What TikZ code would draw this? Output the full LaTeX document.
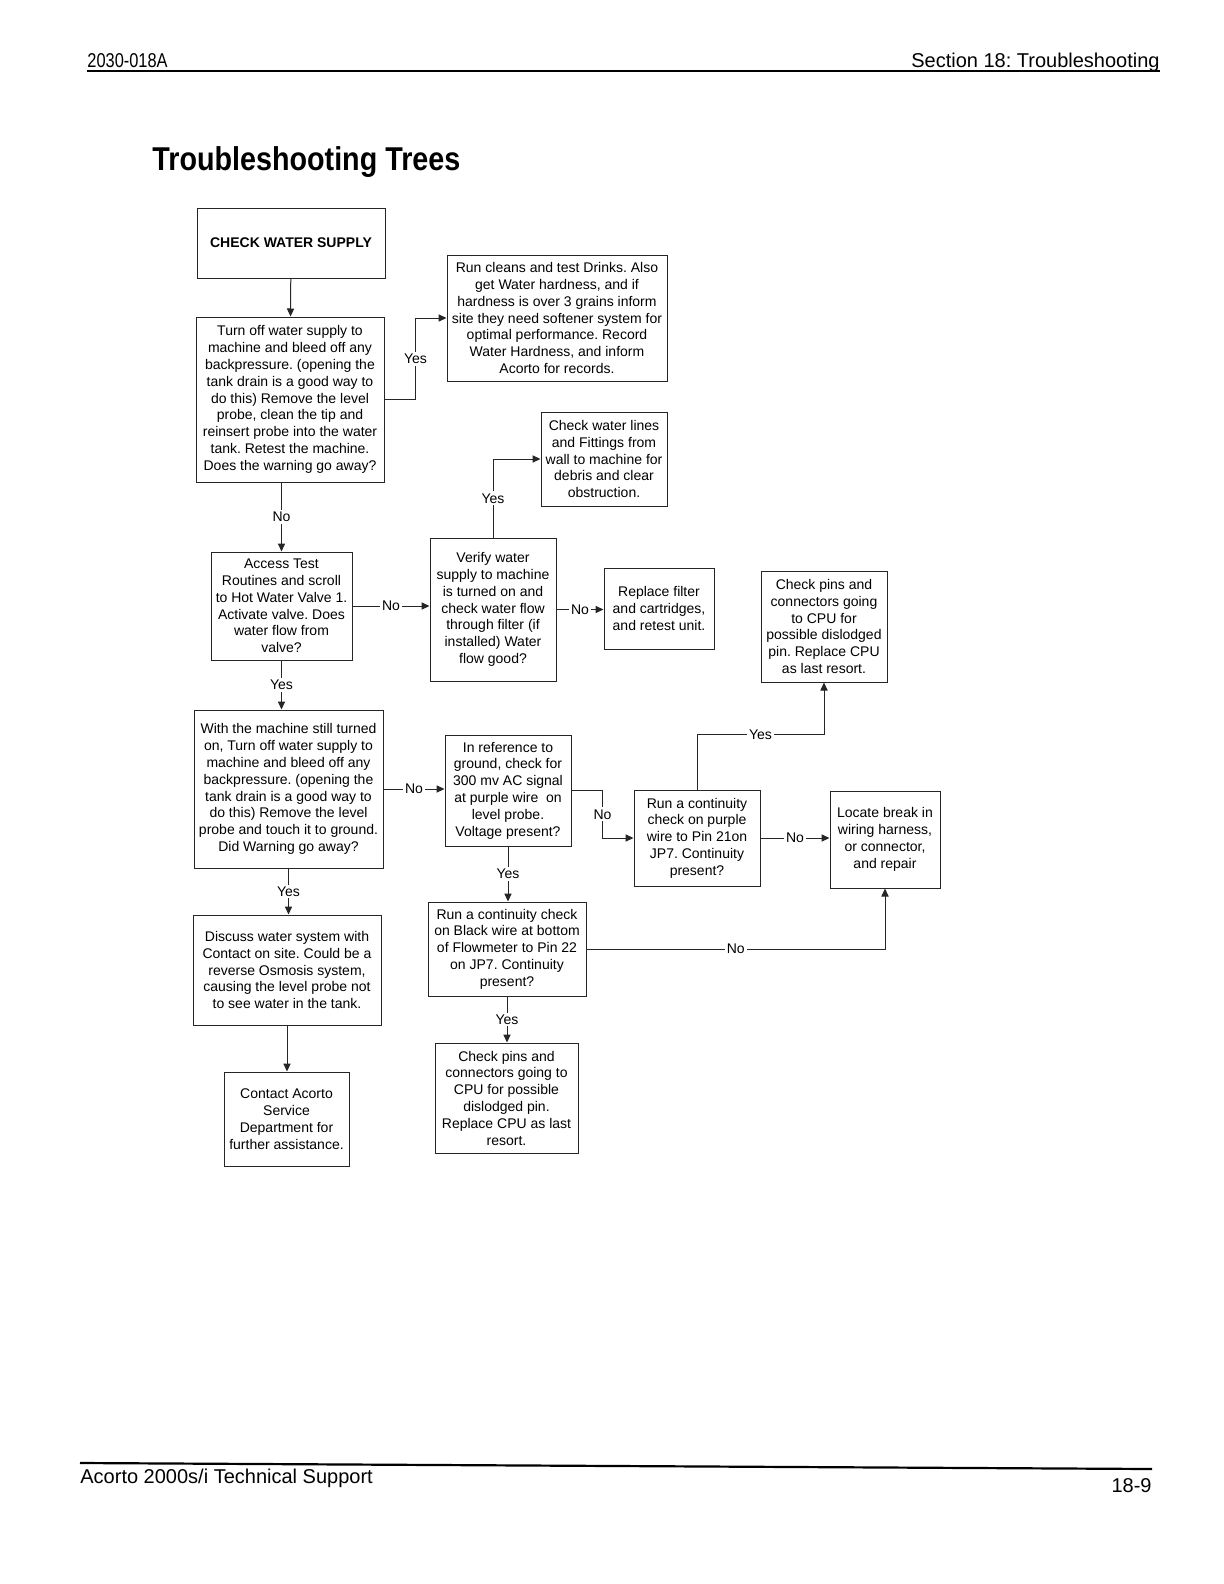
\documentclass[tikz,border=0pt]{standalone}
\usepackage{fontspec}
\setmainfont{Liberation Sans}
\newfontfamily\narrowfont[FakeStretch=0.82]{Liberation Sans}
\newfontfamily\titlefont[FakeStretch=0.87]{Liberation Sans}
\usepackage{tikz}
\usetikzlibrary{arrows.meta}
\pgfdeclarelayer{edgelayer}
\pgfdeclarelayer{nodelayer}
\pgfsetlayers{edgelayer,nodelayer,main}
\tikzstyle{flow_box}=[draw=black!85,line width=0.5pt,align=center,inner sep=0pt,font=\fontsize{7}{8.4}\selectfont]
\tikzstyle{flow_arrow}=[-{Triangle[length=4pt,width=3.6pt]},draw=black!85,line width=0.5pt]
\tikzstyle{flow_label}=[fill=white,inner sep=1pt,font=\fontsize{7}{8.4}\selectfont]
\frenchspacing

\begin{document}
\begin{tikzpicture}[x=0.5pt,y=-0.5pt]
	\useasboundingbox (0,0) rectangle (1224,1584);
	% page header, title and footer
	\node [anchor=base west,inner sep=0pt,font=\narrowfont\fontsize{10}{12}\selectfont] (h0) at (87,68) {2030-018A};
	\node [anchor=base east,inner sep=0pt,font=\fontsize{10}{12}\selectfont] (h1) at (1160,68) {Section 18: Troubleshooting};
	\draw [line width=1pt] (h0.base west) ++(0,3) coordinate (r0) -- (r0 -| h1.east);
	\node [anchor=base west,inner sep=0pt,font=\titlefont\bfseries\fontsize{16.5}{20}\selectfont] (t) at (152,170) {Troubleshooting Trees};
	\node [anchor=base west,inner sep=0pt,font=\fontsize{10}{12}\selectfont] (f0) at (80,1483) {Acorto 2000s/i Technical Support};
	\node [anchor=base east,inner sep=0pt,font=\fontsize{10}{12}\selectfont] (f1) at (1152,1492) {18-9};
	\draw [line width=1.1pt] (80,1463) -- (1152,1469);
	\begin{pgfonlayer}{nodelayer}
		\node [style={flow_box},minimum width=94pt,minimum height=35pt,font=\bfseries\fontsize{7}{8.4}\selectfont] (1) at (291,243) {CHECK WATER SUPPLY};
		\node [style={flow_box},minimum width=94pt,minimum height=82.5pt] (2) at (290,399.5) {Turn off water supply to\\machine and bleed off any\\backpressure. (opening the\\tank drain is a good way to\\do this) Remove the level\\probe, clean the tip and\\reinsert probe into the water\\tank. Retest the machine.\\Does the warning go away?};
		\node [style={flow_box},minimum width=110pt,minimum height=63pt] (3) at (557,318) {Run cleans and test Drinks. Also\\get Water hardness, and if\\hardness is over 3 grains inform\\site they need softener system for\\optimal performance. Record\\Water Hardness, and inform\\Acorto for records.};
		\node [style={flow_box},minimum width=63pt,minimum height=47pt] (4) at (604,459) {Check water lines\\and Fittings from\\wall to machine for\\debris and clear\\obstruction.};
		\node [style={flow_box},minimum width=70.5pt,minimum height=54pt] (5) at (281.5,606) {Access Test\\Routines and scroll\\to Hot Water Valve 1.\\Activate valve. Does\\water flow from\\valve?};
		\node [style={flow_box},minimum width=63pt,minimum height=71.5pt] (6) at (493,609.5) {Verify water\\supply to machine\\is turned on and\\check water flow\\through filter (if\\installed) Water\\flow good?};
		\node [style={flow_box},minimum width=55pt,minimum height=40.5pt] (7) at (659,608.5) {Replace filter\\and cartridges,\\and retest unit.};
		\node [style={flow_box},minimum width=63pt,minimum height=55.5pt] (8) at (824,626.5) {Check pins and\\connectors going\\to CPU for\\possible dislodged\\pin. Replace CPU\\as last resort.};
		\node [style={flow_box},minimum width=94.5pt,minimum height=79pt] (9) at (288.5,789) {With the machine still turned\\on, Turn off water supply to\\machine and bleed off any\\backpressure. (opening the\\tank drain is a good way to\\do this) Remove the level\\probe and touch it to ground.\\Did Warning go away?};
		\node [style={flow_box},minimum width=63pt,minimum height=55.5pt] (10) at (508,790.5) {In reference to\\ground, check for\\300 mv AC signal\\at purple wire\ \ on\\level probe.\\Voltage present?};
		\node [style={flow_box},minimum width=63pt,minimum height=48pt] (11) at (697,838) {Run a continuity\\check on purple\\wire to Pin 21on\\JP7. Continuity\\present?};
		\node [style={flow_box},minimum width=55pt,minimum height=48.5pt] (12) at (885,839.5) {Locate break in\\wiring harness,\\or connector,\\and repair};
		\node [style={flow_box},minimum width=94pt,minimum height=55pt] (13) at (287,970) {Discuss water system with\\Contact on site. Could be a\\reverse Osmosis system,\\causing the level probe not\\to see water in the tank.};
		\node [style={flow_box},minimum width=79pt,minimum height=47pt] (14) at (507,949) {Run a continuity check\\on Black wire at bottom\\of Flowmeter to Pin 22\\on JP7. Continuity\\present?};
		\node [style={flow_box},minimum width=62.5pt,minimum height=47pt] (15) at (286.5,1119) {Contact Acorto\\Service\\Department for\\further assistance.};
		\node [style={flow_box},minimum width=71.5pt,minimum height=55pt] (16) at (506.5,1098) {Check pins and\\connectors going to\\CPU for possible\\dislodged pin.\\Replace CPU as last\\resort.};
	\end{pgfonlayer}
	\begin{pgfonlayer}{edgelayer}
		\draw [style=flow_arrow] (1) to (2);
		\draw [style=flow_arrow] (2.east) -- ++(31,0) |- node [style=flow_label,pos=0.25] {Yes} (3.west);
		\draw [style=flow_arrow] (2.south -| 5.north) -- node [style=flow_label] {No} (5.north);
		\draw [style=flow_arrow] (5.east) -- node [style=flow_label] {No} (5.east -| 6.west);
		\draw [style=flow_arrow] (6.north) |- node [style=flow_label,pos=0.25] {Yes} (4.west);
		\draw [style=flow_arrow] (6.east) -- node [style=flow_label] {No} (6.east -| 7.west);
		\draw [style=flow_arrow] (5.south) -- node [style=flow_label] {Yes} (5.south |- 9.north);
		\draw [style=flow_arrow] (9.east) -- node [style=flow_label] {No} (9.east -| 10.west);
		\draw [style=flow_arrow] (10.east) -- ++(31,0) |- node [style=flow_label,pos=0.25] {No} (11.west);
		\draw [style=flow_arrow] (11.north) -- ++(0,-55) -| node [style=flow_label,pos=0.25] {Yes} (8.south);
		\draw [style=flow_arrow] (11.east) -- node [style=flow_label] {No} (11.east -| 12.west);
		\draw [style=flow_arrow] (10.south) -- node [style=flow_label] {Yes} (10.south |- 14.north);
		\draw [style=flow_arrow] (14.east) -| node [style=flow_label,pos=0.25] {No} (12.south);
		\draw [style=flow_arrow] (9.south) -- node [style=flow_label] {Yes} (9.south |- 13.north);
		\draw [style=flow_arrow] (13.south) -- (13.south |- 15.north);
		\draw [style=flow_arrow] (14.south) -- node [style=flow_label] {Yes} (14.south |- 16.north);
	\end{pgfonlayer}
\end{tikzpicture}
\end{document}
